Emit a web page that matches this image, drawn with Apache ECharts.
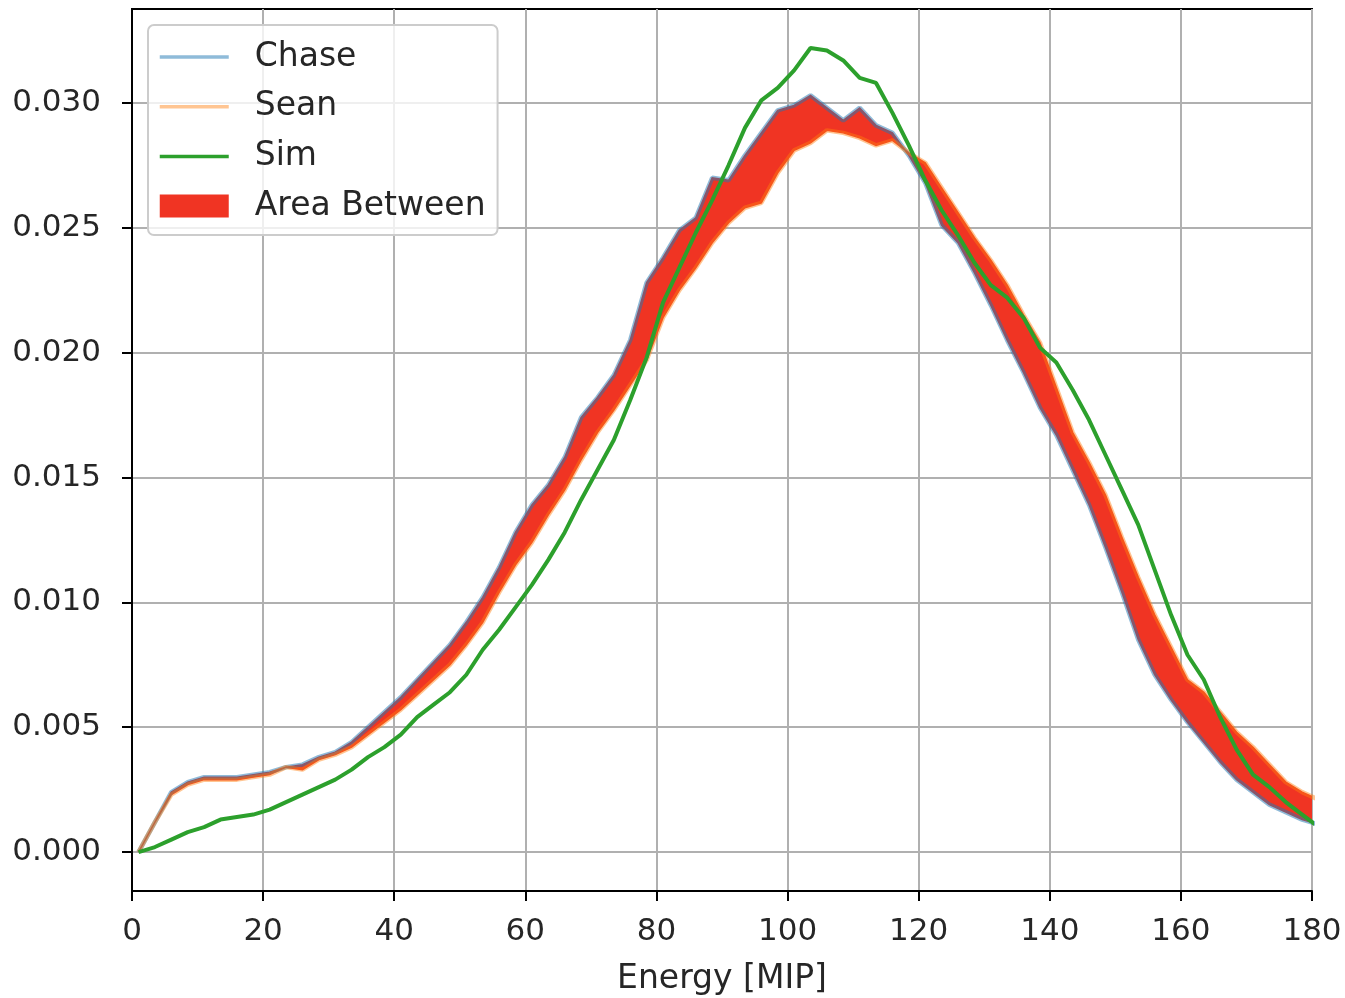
<!DOCTYPE html>
<html><head><meta charset="utf-8">
<script src="https://cdn.jsdelivr.net/npm/echarts@6.0.0/dist/echarts.min.js"></script>
<style>html,body{margin:0;padding:0;background:#fff}#c{width:1345px;height:998px}</style>
</head><body><div id="c"></div>
<script>
// Energy bin positions [MIP]
const energy = [1,3.5,6,8.5,11,13.5,16,18.5,21,23.5,26,28.5,31,33.5,36,38.5,41,43.5,46,48.5,
  51,53.5,56,58.5,61,63.5,66,68.5,71,73.5,76,78.5,81,83.5,86,88.5,91,93.5,96,98.5,
  101,103.5,106,108.5,111,113.5,116,118.5,121,123.5,126,128.5,131,133.5,136,138.5,141,143.5,146,148.5,
  151,153.5,156,158.5,161,163.5,166,168.5,171,173.5,176,178.5,181];
const chase = [0,0.0012,0.0024,0.0028,0.0030,0.0030,0.0030,0.0031,0.0032,0.0034,
  0.0035,0.0038,0.0040,0.0044,0.0050,0.0056,0.0062,0.0069,0.0076,0.0083,
  0.0092,0.0102,0.0114,0.0128,0.0139,0.0147,0.0158,0.0174,0.0182,0.0191,
  0.0205,0.0228,0.0238,0.0249,0.0254,0.0270,0.0269,0.0279,0.0288,0.0297,
  0.0299,0.0303,0.0298,0.0293,0.0298,0.0291,0.0288,0.0279,0.0268,0.0251,
  0.0244,0.0232,0.0219,0.0205,0.0192,0.0178,0.0167,0.0153,0.0139,0.0122,
  0.0104,0.0085,0.0071,0.0061,0.0052,0.0044,0.0036,0.0029,0.0024,0.0019,
  0.0016,0.0013,0.0011];
const sean = [0,0.0012,0.0023,0.0027,0.0029,0.0029,0.0029,0.0030,0.0031,0.0034,
  0.0033,0.0037,0.0039,0.0042,0.0047,0.0052,0.0057,0.0063,0.0069,0.0075,
  0.0083,0.0092,0.0104,0.0115,0.0124,0.0135,0.0145,0.0157,0.0168,0.0177,
  0.0187,0.0197,0.0214,0.0225,0.0234,0.0244,0.0252,0.0258,0.0260,0.0272,
  0.0281,0.0284,0.0289,0.0288,0.0286,0.0283,0.0285,0.0280,0.0276,0.0266,
  0.0256,0.0246,0.0237,0.0227,0.0215,0.0204,0.0186,0.0168,0.0156,0.0143,
  0.0126,0.0110,0.0095,0.0082,0.0069,0.0064,0.0056,0.0048,0.0042,0.0035,
  0.0028,0.0024,0.0021];
const sim = [0,0.0002,0.0005,0.0008,0.0010,0.0013,0.0014,0.0015,0.0017,0.0020,
  0.0023,0.0026,0.0029,0.0033,0.0038,0.0042,0.0047,0.0054,0.0059,0.0064,
  0.0071,0.0081,0.0089,0.0098,0.0107,0.0117,0.0128,0.0141,0.0153,0.0165,
  0.0181,0.0198,0.0220,0.0234,0.0248,0.0261,0.0275,0.0290,0.0301,0.0306,
  0.0313,0.0322,0.0321,0.0317,0.0310,0.0308,0.0296,0.0283,0.0269,0.0257,
  0.0247,0.0236,0.0227,0.0222,0.0214,0.0202,0.0196,0.0185,0.0173,0.0159,
  0.0145,0.0131,0.0113,0.0095,0.0079,0.0069,0.0054,0.0041,0.0031,0.0026,
  0.0020,0.0015,0.0010];
const xTicks = [0,20,40,60,80,100,120,140,160,180];
const yTicks = [0,0.005,0.010,0.015,0.020,0.025,0.030];
const seriesNames = ['Chase','Sean','Sim','Area Between'];

const pairs = arr => energy.map((x,i)=>[x, arr[i]]);
const RED = '#f03423';
const FONT = 'DejaVu Sans';
const chart = echarts.init(document.getElementById('c'), null, {renderer:'canvas'});
chart.setOption({
  animation:false,
  backgroundColor:'#ffffff',
  textStyle:{fontFamily:FONT},
  grid:{left:132,right:33,top:9,bottom:107,show:true,borderColor:'#000',borderWidth:2,
        backgroundColor:'transparent',outerBoundsMode:'none',containLabel:false},
  legend:{
    show:true, orient:'vertical', left:148, top:25,
    padding:[14,12,11,10], itemGap:13.7, itemWidth:69, itemHeight:23,
    backgroundColor:'rgba(255,255,255,0.8)', borderColor:'#cccccc', borderWidth:2, borderRadius:6,
    itemStyle:{opacity:0},
    textStyle:{fontFamily:FONT,fontSize:33,color:'#262626',lineHeight:36,padding:[0,0,0,21]},
    data:[
      {name:seriesNames[0], lineStyle:{width:3.5}},
      {name:seriesNames[1], lineStyle:{width:3.5}},
      {name:seriesNames[2], lineStyle:{width:3.5}},
      {name:seriesNames[3], icon:'rect', itemStyle:{opacity:1,color:RED}}
    ]
  },
  xAxis:{
    type:'value', min:xTicks[0], max:xTicks[xTicks.length-1], interval:20,
    name:'Energy [MIP]', nameLocation:'middle', nameGap:72,
    nameTextStyle:{fontFamily:FONT,fontSize:33,color:'#262626'},
    axisLine:{show:true,onZero:false,lineStyle:{color:'#000',width:2}},
    axisTick:{show:true,length:10,lineStyle:{color:'#000',width:2}},
    axisLabel:{fontFamily:FONT,fontSize:31,color:'#262626',margin:25,showMinLabel:true,showMaxLabel:true},
    splitLine:{show:true,lineStyle:{color:'#b0b0b0',width:2}}
  },
  yAxis:{
    type:'value', min:-0.00156, max:0.03376,
    axisLine:{show:true,onZero:false,lineStyle:{color:'#000',width:2}},
    axisTick:{show:true,length:10,customValues:yTicks,lineStyle:{color:'#000',width:2}},
    axisLabel:{fontFamily:FONT,fontSize:31,color:'#262626',margin:31,customValues:yTicks,
               formatter:v=>Number(v).toFixed(3)},
    splitLine:{show:true,lineStyle:{color:'#b0b0b0',width:2}}
  },
  series:[
    {name:seriesNames[3], type:'custom', clip:true, silent:true, z:2,
     itemStyle:{color:RED}, data:pairs(chase), encode:{x:0,y:1},
     renderItem:function(params, api){
       if (params.dataIndex !== 0) return null;
       const pts = [];
       for (let i=0;i<energy.length;i++) pts.push(api.coord([energy[i], chase[i]]));
       for (let i=energy.length-1;i>=0;i--) pts.push(api.coord([energy[i], sean[i]]));
       return {type:'polygon', shape:{points:pts},
               style:{fill:RED, stroke:RED, lineWidth:1.5}};
     }},
    {name:seriesNames[0], type:'line', data:pairs(chase), symbol:'none', color:'rgba(31,119,180,0.5)',
     lineStyle:{width:4.5,color:'rgba(31,119,180,0.5)'}, z:3},
    {name:seriesNames[1], type:'line', data:pairs(sean), symbol:'none', color:'rgba(255,127,14,0.45)',
     lineStyle:{width:4.5,color:'rgba(255,127,14,0.45)'}, z:3},
    {name:seriesNames[2], type:'line', data:pairs(sim), symbol:'none', color:'#2ca02c',
     lineStyle:{width:4,color:'#2ca02c'}, z:4}
  ]
});
</script></body></html>
